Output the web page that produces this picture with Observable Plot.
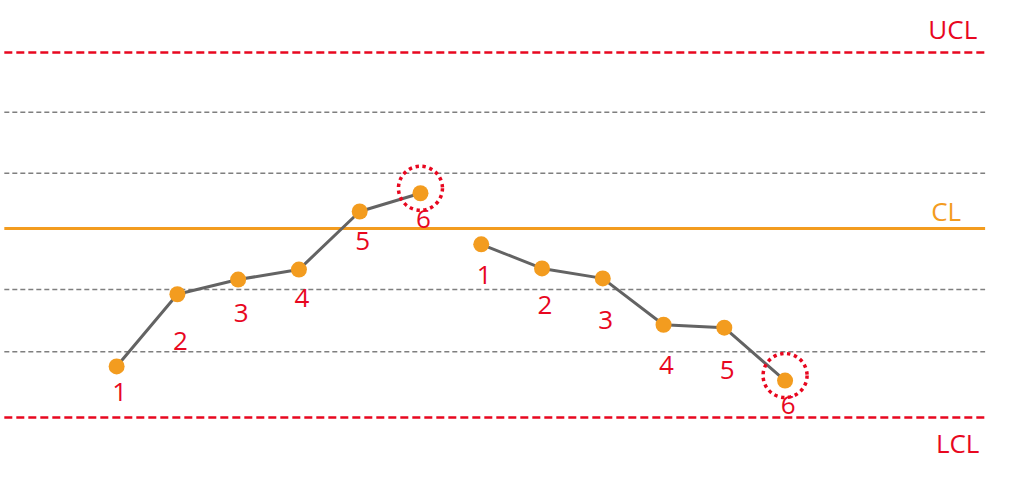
<!DOCTYPE html>
<html>
<head>
<meta charset="utf-8">
<script src="https://cdn.jsdelivr.net/npm/d3@7"></script>
<script src="https://cdn.jsdelivr.net/npm/@observablehq/plot@0.6"></script>
<style>
  html, body { margin: 0; padding: 0; background: #fff; }
  #chart svg { display: block; }
</style>
</head>
<body>
<div id="chart"></div>
<script>
// ---- data (values in sigma units, CL = 0) ----
const sampleIndex = [1, 2, 3, 4, 5, 6, 7, 8, 9, 10, 11, 12];
const sampleLabel = ["1", "2", "3", "4", "5", "6", "1", "2", "3", "4", "5", "6"];
const sampleGroup = ["A", "A", "A", "A", "A", "A", "B", "B", "B", "B", "B", "B"];
const sampleValue = [-2.35, -1.12, -0.87, -0.70, 0.29, 0.60, -0.27, -0.68, -0.85, -1.64, -1.69, -2.59];
const labelValue  = [-2.80, -1.93, -1.45, -1.19, -0.22, 0.15, -0.80, -1.31, -1.57, -2.33, -2.42, -3.02];
const flagged = [6, 12];

const controlNames  = ["UCL", "CL", "LCL"];
const controlValues = [3.0, 0, -3.22];
const zoneValues    = [1.98, 0.94, -1.04, -2.10];

const xStart = -0.84, xEnd = 15.3;

const ORANGE = "#F39C1F";
const RED = "#E8071F";

const points = sampleIndex.map((x, i) => ({
  x, v: sampleValue[i], lv: labelValue[i], label: sampleLabel[i], g: sampleGroup[i]
}));
const flaggedPoints = points.filter(d => flagged.includes(d.x));
const zones = zoneValues.map(v => ({v}));
const limits = controlNames.map((n, i) => ({name: n, v: controlValues[i]}));

const font = "'Open Sans', 'Noto Sans', sans-serif";

const chart = Plot.plot({
  width: 1024,
  height: 482,
  margin: 0,
  style: {fontFamily: font, background: "#fff"},
  x: {domain: [-0.911, 15.94], range: [0, 1024], axis: null},
  y: {domain: [-4.327, 3.884], range: [482, 0], axis: null},
  marks: [
    // zone lines
    Plot.ruleY(zones, {y: "v", x1: xStart, x2: xEnd, stroke: "#7f7f7f", strokeWidth: 1.6, strokeDasharray: "5,3"}),
    // UCL / LCL
    Plot.ruleY(limits.filter(d => d.name !== "CL"), {y: "v", x1: xStart, x2: xEnd, stroke: RED, strokeWidth: 2.5, strokeDasharray: "8,4"}),
    // CL
    Plot.ruleY(limits.filter(d => d.name === "CL"), {y: "v", x1: xStart, x2: xEnd, stroke: ORANGE, strokeWidth: 3}),
    // limit labels
    Plot.text(limits.filter(d => d.name === "UCL"), {x: 14.76, y: "v", text: "name", dy: -22, fill: RED, fontSize: 26}),
    Plot.text(limits.filter(d => d.name === "CL"), {x: 14.65, y: "v", text: "name", dy: -16, fill: ORANGE, fontSize: 26}),
    Plot.text(limits.filter(d => d.name === "LCL"), {x: 14.84, y: "v", text: "name", dy: 27, fill: RED, fontSize: 26}),
    // series lines
    Plot.line(points, {x: "x", y: "v", z: "g", stroke: "#636363", strokeWidth: 3}),
    // dots
    Plot.dot(points, {x: "x", y: "v", r: 8, fill: ORANGE, stroke: "none"}),
    // flagged circles
    Plot.dot(flaggedPoints, {x: "x", y: "v", dy: -5, r: 22, fill: "none", stroke: RED, strokeWidth: 3.5, strokeDasharray: "3.4,3.6"}),
    // point labels
    Plot.text(points, {x: "x", y: "lv", text: "label", dx: 3, fill: RED, fontSize: 26})
  ]
});
document.getElementById("chart").appendChild(chart);
</script>
</body>
</html>
